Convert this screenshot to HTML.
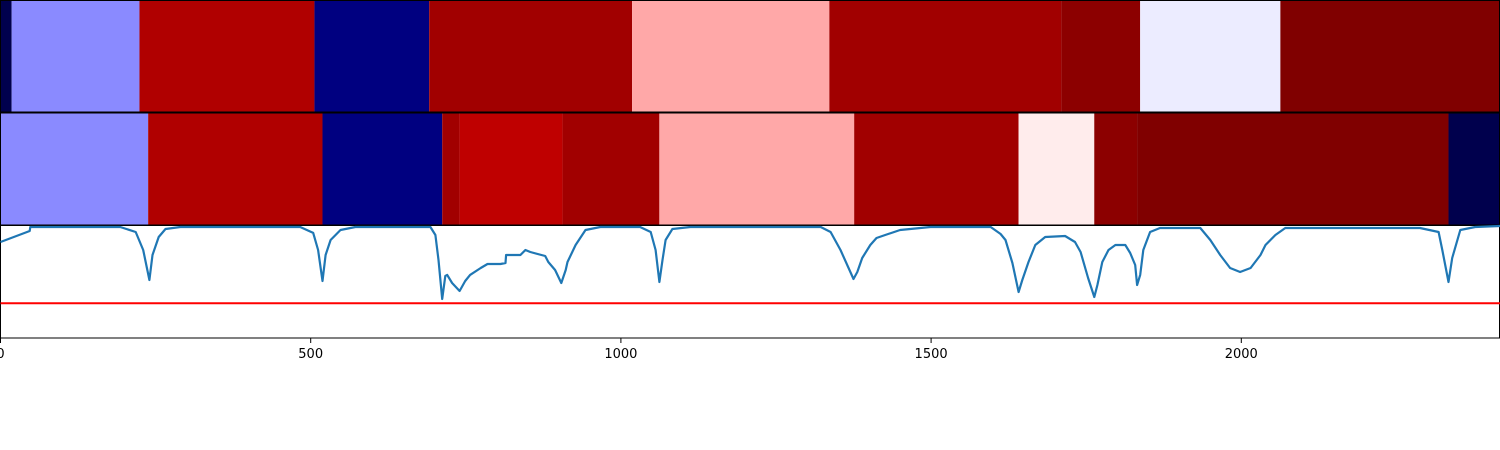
<!DOCTYPE html>
<html><head><meta charset="utf-8"><style>
html,body{margin:0;padding:0;background:#fff;width:1500px;height:450px;overflow:hidden}
svg text{font-family:"DejaVu Sans","Liberation Sans",sans-serif;font-size:13px}
</style></head><body>
<svg id="chart" width="1500" height="450" viewBox="0 0 1500 450" xmlns="http://www.w3.org/2000/svg"></svg>
<script>
// ---- data ----
const row1Starts = [0, 18, 224, 506, 691, 1018, 1336, 1710, 1837, 2063];
const row1Values = [-1.0, -0.23, 0.81, -0.857, 0.87, 0.17, 0.87, 0.95, -0.037, 1.0];
const row2Starts = [0, 238, 519, 712, 740, 906, 1062, 1376, 1641, 1763, 1832, 2334];
const row2Values = [-0.23, 0.81, -0.857, 0.87, 0.75, 0.87, 0.17, 0.87, 0.037, 0.95, 1.0, -1.0];
const lineX = [0,47,48,193,218,230,240,245,255,266,290,483,504,512,519,524,532,548,572,693,701,706,712,717,720,728,740,749,757,774,785,806,814,815,838,846,854,878,883,894,904,911,914,927,943,967,1031,1048,1056,1062,1067,1072,1083,1112,1322,1338,1354,1375,1381,1389,1402,1412,1426,1450,1499,1596,1612,1620,1631,1641,1647,1657,1668,1684,1716,1732,1741,1753,1763,1768,1776,1786,1797,1813,1821,1829,1832,1837,1842,1853,1869,1934,1950,1966,1982,1998,2015,2031,2039,2055,2071,2288,2318,2324,2334,2340,2353,2377,2417];
const lineV = [.857,.955,.991,.991,.946,.786,.518,.741,.902,.973,.991,.991,.938,.786,.509,.741,.875,.964,.991,.991,.920,.696,.348,.554,.563,.491,.420,.509,.563,.625,.661,.661,.670,.741,.741,.786,.768,.732,.679,.607,.491,.607,.679,.830,.964,.991,.991,.946,.786,.500,.696,.875,.973,.991,.991,.946,.786,.527,.589,.714,.830,.893,.920,.964,.991,.991,.929,.875,.670,.411,.518,.679,.830,.902,.911,.857,.768,.536,.366,.473,.679,.786,.830,.830,.759,.652,.473,.563,.786,.946,.982,.982,.875,.741,.625,.589,.625,.741,.830,.920,.982,.982,.946,.786,.500,.714,.964,.991,1.0];
const threshold = [0.31];
const tickValues = [0, 500, 1000, 1500, 2000];
const xMax = 2417;

// ---- scales ----
const X0 = 0.5, X1 = 1500;
const sx = v => X0 + v / xMax * (X1 - X0);
const sy = v => 338 - v * 112;
function seismic(v){
  const t = Math.max(0, Math.min(1, (v + 1) / 2));
  const stops = [[0,[0,0,.3]],[.25,[0,0,1]],[.5,[1,1,1]],[.75,[1,0,0]],[1,[.5,0,0]]];
  for (let i = 0; i < 4; i++) {
    const [a, ca] = stops[i], [b, cb] = stops[i+1];
    if (t <= b) { const f = (t - a) / (b - a);
      return 'rgb(' + ca.map((c, k) => Math.round(255 * (c + (cb[k] - c) * f))).join(',') + ')'; }
  }
  return 'rgb(128,0,0)';
}
const svg = document.getElementById('chart');
const NS = 'http://www.w3.org/2000/svg';
function mk(tag, attrs){ const e = document.createElementNS(NS, tag); for (const k in attrs) e.setAttribute(k, attrs[k]); svg.appendChild(e); return e; }

function drawRow(starts, vals, y0, y1, name){
  for (let i = 0; i < starts.length; i++) {
    const xa = sx(starts[i]), xb = i + 1 < starts.length ? sx(starts[i+1]) : X1;
    const r = mk('rect', {x: xa, y: y0, width: xb - xa, height: y1 - y0, fill: seismic(vals[i])});
    
    
  }
  const b = mk('rect', {x: 0.5, y: y0 + 0.5, width: 1499, height: y1 - y0 - 1, fill: 'none', stroke: '#000', 'stroke-width': 1});
  
  
}
drawRow(row1Starts, row1Values, 0, 112.5, 'heatmap-row-1');
drawRow(row2Starts, row2Values, 112.5, 225.5, 'heatmap-row-2');

const frame = mk('rect', {x: 0.5, y: 225.5, width: 1499, height: 112.5, fill: 'none', stroke: '#000', 'stroke-width': 1});



const th = mk('line', {x1: X0, x2: X1, y1: sy(threshold[0]), y2: sy(threshold[0]), stroke: '#ff0000', 'stroke-width': 2});



const pts = lineX.map((x, i) => sx(x).toFixed(1) + ',' + sy(lineV[i]).toFixed(1)).join(' ');
const pl = mk('polyline', {points: pts, fill: 'none', stroke: '#1f77b4', 'stroke-width': 2.2, 'stroke-linejoin': 'round'});



tickValues.forEach(v => {
  const x = sx(v);
  const t = mk('line', {x1: x, x2: x, y1: 338, y2: 343, stroke: '#000', 'stroke-width': 1});
  
  
  const l = mk('text', {x: x, y: 358, 'text-anchor': 'middle', fill: '#000'});
  l.textContent = v;
  
  
});
</script>
</body></html>
